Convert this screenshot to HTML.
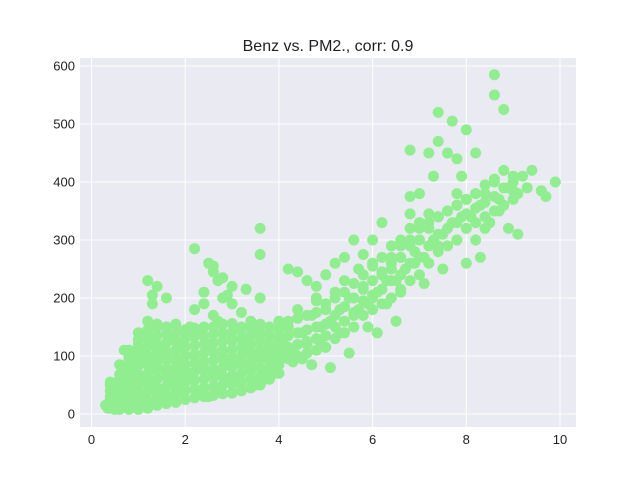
<!DOCTYPE html>
<html><head><meta charset="utf-8"><style>
body{margin:0;background:#fff;}
svg{display:block;font-family:"Liberation Sans",sans-serif;}
</style></head><body>
<svg id="chart" width="640" height="480">
<rect x="0" y="0" width="640" height="480" fill="#ffffff"/>
<rect x="80" y="58" width="496" height="369" fill="#EAEAF2"/>
<g id="grid"></g>
<g id="pts"></g>
<g id="ticks"></g>
<text x="328" y="51" text-anchor="middle" font-size="16" fill="#222">Benz vs. PM2., corr: 0.9</text>
</svg>
<script>
const xTicks=[0,2,4,6,8,10];
const yTicks=[0,100,200,300,400,500,600];
const benz=[
0.3,0.35,0.4,0.4,0.45,0.5,0.5,0.55,0.6,0.6,0.65,0.7,0.7,0.75,0.8,0.8,0.85,0.9,0.9,0.95,1.0,1.0,0.5,0.6,0.7,0.8,0.9,1.0,0.4,0.7,
1.1,1.1,1.2,1.2,1.3,1.3,1.4,1.4,1.5,1.5,1.6,1.6,1.7,1.7,1.8,1.8,1.9,1.9,2.0,2.0,1.1,1.3,1.5,1.7,1.9,1.2,1.4,1.6,1.8,2.0,
1.2,1.4,1.3,1.3,1.6,1.2,
2.1,2.2,2.3,2.4,2.5,2.6,2.7,2.8,2.9,3.0,3.1,3.2,3.3,3.4,3.5,3.6,3.7,3.8,3.9,4.0,2.2,2.4,2.6,2.8,3.0,3.2,3.4,3.6,3.8,4.0,2.3,2.7,3.1,3.5,3.9,2.5,2.9,3.3,3.7,2.1,
2.2,2.5,2.6,2.6,2.7,2.8,3.0,3.3,3.6,3.6,2.4,2.9,
4.1,4.2,4.3,4.4,4.5,4.6,4.7,4.8,4.9,5.0,5.1,5.2,5.3,5.4,5.5,5.6,5.7,5.8,5.9,6.0,4.2,4.4,4.6,4.8,5.0,5.2,5.4,5.6,5.8,6.0,4.3,4.7,5.1,5.5,5.9,4.1,4.5,4.9,5.3,5.7,
6.1,6.2,6.3,6.4,6.5,6.6,6.7,6.8,6.9,7.0,7.1,7.2,7.3,7.4,7.5,7.6,7.7,7.8,7.9,8.0,6.2,6.4,6.6,6.8,7.0,7.2,7.4,7.6,7.8,8.0,6.3,6.8,7.3,7.7,6.1,6.5,6.9,7.5,7.9,7.1,6.6,7.0,7.4,7.8,7.4,6.0,
8.1,8.2,8.3,8.4,8.5,8.6,8.7,8.8,8.9,9.0,9.1,9.2,9.3,9.4,9.6,9.7,9.9,8.6,8.6,8.8,8.2,8.4,8.9,9.1,8.0,8.3,8.7,9.0
];
const pm25=[
15,10,20,30,12,25,45,18,35,60,22,40,80,55,30,95,65,20,105,75,50,120,8,12,15,10,40,90,50,110,
30,100,60,140,45,120,80,155,35,110,70,150,50,130,90,155,40,115,75,140,15,20,25,30,60,85,95,100,70,55,
230,220,205,190,200,160,
60,100,140,80,120,70,160,100,60,130,90,150,110,80,140,100,60,120,90,150,180,190,170,200,190,175,160,200,110,100,40,45,55,50,70,30,90,120,75,150,
285,260,255,245,230,235,220,215,320,275,210,205,
130,160,110,180,140,120,170,200,150,190,160,210,180,230,200,170,250,220,190,260,250,245,230,220,240,260,270,300,275,300,90,85,80,105,150,100,95,120,140,180,
210,240,190,270,230,290,250,300,280,320,270,330,300,340,310,350,330,360,340,370,330,250,270,455,380,450,470,450,440,490,230,375,410,505,140,160,260,250,410,225,210,300,520,300,290,200,
340,450,360,380,330,400,370,420,390,370,310,410,390,420,385,375,400,585,550,525,300,320,320,380,260,270,350,410
];
const denseBenz=[
0.4,0.4,0.4,0.4,
0.6,0.6,0.6,0.6,0.6,0.6,
0.8,0.8,0.8,0.8,0.8,0.8,0.8,0.8,
1.0,1.0,1.0,1.0,1.0,1.0,1.0,1.0,1.0,1.0,
1.2,1.2,1.2,1.2,1.2,1.2,1.2,1.2,1.2,1.2,
1.4,1.4,1.4,1.4,1.4,1.4,1.4,1.4,1.4,1.4,
1.6,1.6,1.6,1.6,1.6,1.6,1.6,1.6,1.6,1.6,
1.8,1.8,1.8,1.8,1.8,1.8,1.8,1.8,1.8,
2.0,2.0,2.0,2.0,2.0,2.0,2.0,2.0,2.0,
2.2,2.2,2.2,2.2,2.2,2.2,2.2,2.2,2.2,
2.4,2.4,2.4,2.4,2.4,2.4,2.4,2.4,2.4,
2.6,2.6,2.6,2.6,2.6,2.6,2.6,2.6,2.6,
2.8,2.8,2.8,2.8,2.8,2.8,2.8,2.8,2.8,
3.0,3.0,3.0,3.0,3.0,3.0,3.0,3.0,3.0,
3.2,3.2,3.2,3.2,3.2,3.2,3.2,3.2,
3.4,3.4,3.4,3.4,3.4,3.4,3.4,3.4,
3.6,3.6,3.6,3.6,3.6,3.6,3.6,3.6,
3.8,3.8,3.8,3.8,3.8,3.8,3.8,
4.0,4.0,4.0,4.0,4.0,4.0,4.0
];
const densePm=[
10,25,40,55,
8,23,38,53,68,85,
8,23,38,53,68,83,98,110,
8,23,38,53,68,83,98,113,128,140,
10,25,40,55,70,85,100,115,130,145,
15,30,45,60,75,90,105,120,135,150,
18,33,48,63,78,93,108,123,138,150,
20,35,50,65,80,95,110,125,140,
25,40,55,70,85,100,115,130,145,
28,43,58,73,88,103,118,133,148,
30,45,60,75,90,105,120,135,150,
32,47,62,77,92,107,122,137,150,
35,50,65,80,95,110,125,140,155,
36,51,66,81,96,111,126,141,156,
40,55,70,85,100,115,130,145,
45,60,75,90,105,120,135,150,
50,65,80,95,110,125,140,155,
60,75,90,105,120,135,150,
70,85,100,115,130,145,160
];
const midBenz=[
4.2,4.2,4.2,4.2, 4.4,4.4,4.4,4.4, 4.6,4.6,4.6,4.6, 4.8,4.8,4.8,4.8,4.8, 5.0,5.0,5.0,5.0,
5.2,5.2,5.2,5.2, 5.4,5.4,5.4,5.4, 5.6,5.6,5.6,5.6, 5.8,5.8,5.8,5.8, 6.0,6.0,6.0,6.0,
6.2,6.2,6.2,6.2, 6.4,6.4,6.4,6.4, 6.6,6.6,6.6,6.6, 6.8,6.8,6.8,6.8,6.8, 7.0,7.0,7.0,7.0,
7.2,7.2,7.2,7.2, 7.4,7.4,7.4, 7.6,7.6,7.6, 7.8,7.8,7.8,7.8, 8.0,8.0,8.0, 8.2,8.2,8.2,
8.4,8.4,8.4, 8.6,8.6,8.6, 8.8,8.8, 9.0,9.0
];
const midPm=[
95,115,135,150, 100,120,140,165, 105,125,145,170, 110,130,150,175,195, 115,135,155,180,
130,150,170,200, 140,160,185,210, 150,175,200,225, 170,195,215,240, 180,205,230,255,
190,215,245,270, 200,230,260,290, 215,240,270,300, 230,260,290,320,345, 240,270,300,330,
260,290,320,345, 280,310,340, 290,320,350, 300,330,360,380, 320,345,370, 330,355,380,
340,365,395, 350,375,405, 360,390, 385,400
];
const allX=benz.concat(denseBenz,midBenz);
const allY=pm25.concat(densePm,midPm);
const NS="http://www.w3.org/2000/svg";
const sx=v=>91.5+v*46.85;
const sy=v=>414-v*0.58;
const grid=document.getElementById('grid'),tk=document.getElementById('ticks'),pts=document.getElementById('pts');
xTicks.forEach(t=>{
 const l=document.createElementNS(NS,'line');
 l.setAttribute('x1',sx(t));l.setAttribute('x2',sx(t));l.setAttribute('y1',58);l.setAttribute('y2',427);
 l.setAttribute('stroke','#fff');l.setAttribute('stroke-width','1');
 
 
 grid.appendChild(l);
 const tx=document.createElementNS(NS,'text');
 tx.setAttribute('x',sx(t));tx.setAttribute('y',444);tx.setAttribute('text-anchor','middle');
 tx.setAttribute('font-size','13');tx.setAttribute('fill','#222');tx.textContent=t;
 
 
 tk.appendChild(tx);
});
yTicks.forEach(t=>{
 const l=document.createElementNS(NS,'line');
 l.setAttribute('x1',80);l.setAttribute('x2',576);l.setAttribute('y1',sy(t));l.setAttribute('y2',sy(t));
 l.setAttribute('stroke','#fff');l.setAttribute('stroke-width','1');
 
 
 grid.appendChild(l);
 const tx=document.createElementNS(NS,'text');
 tx.setAttribute('x',75);tx.setAttribute('y',sy(t)+4.5);tx.setAttribute('text-anchor','end');
 tx.setAttribute('font-size','13');tx.setAttribute('fill','#222');tx.textContent=t;
 
 
 tk.appendChild(tx);
});
allX.forEach((b,i)=>{
 const c=document.createElementNS(NS,'circle');
 c.setAttribute('cx',sx(b));c.setAttribute('cy',sy(allY[i]));c.setAttribute('r','5.5');
 c.setAttribute('fill','#90EE90');
 
 
 pts.appendChild(c);
});
</script>
</body></html>
